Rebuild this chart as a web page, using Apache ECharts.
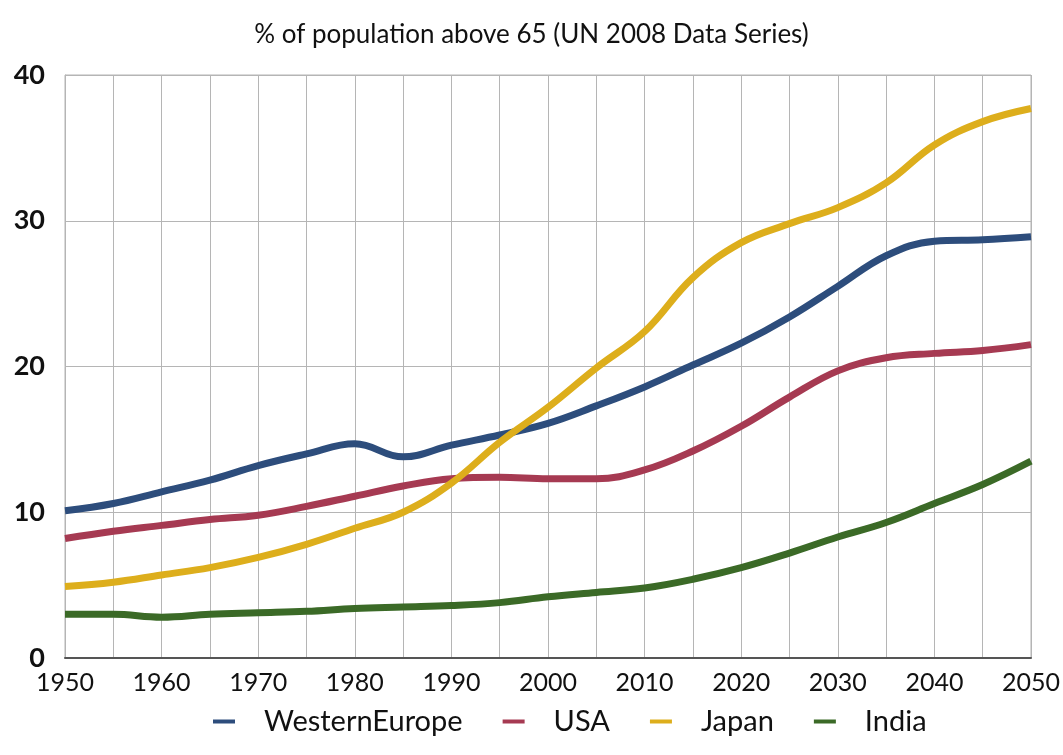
<!DOCTYPE html>
<html>
<head>
<meta charset="utf-8">
<script src="https://cdn.jsdelivr.net/npm/echarts@6/dist/echarts.min.js"></script>
<style>
html,body{margin:0;padding:0;background:#fff;}
#c{width:1063px;height:755px;}
</style>
</head>
<body>
<div id="c"></div>
<script>
const years = [1950,1955,1960,1965,1970,1975,1980,1985,1990,1995,2000,2005,2010,2015,2020,2025,2030,2035,2040,2045,2050];
const westernEurope = [10.1,10.6,11.4,12.2,13.2,14.0,14.7,13.8,14.6,15.3,16.1,17.3,18.6,20.1,21.6,23.4,25.5,27.6,28.6,28.7,28.9];
const usa = [8.2,8.7,9.1,9.5,9.8,10.4,11.1,11.8,12.3,12.4,12.3,12.3,12.9,14.2,15.9,17.9,19.7,20.6,20.9,21.1,21.5];
const japan = [4.9,5.2,5.7,6.2,6.9,7.8,8.9,10.0,12.0,14.8,17.2,19.9,22.4,26.1,28.5,29.8,30.9,32.6,35.2,36.8,37.7];
const india = [3.0,3.0,2.8,3.0,3.1,3.2,3.4,3.5,3.6,3.8,4.2,4.5,4.8,5.4,6.2,7.2,8.3,9.3,10.6,11.9,13.5];
const seriesNames = ['WesternEurope','USA','Japan','India'];
const colors = ['#2d4d7c','#a63a52','#ddae1c','#3b6a27'];
const yTicks = [0,10,20,30,40];

const FONT = 'Lato, "Noto Sans", sans-serif';
const all = [westernEurope, usa, japan, india];
const chart = echarts.init(document.getElementById('c'));
chart.setOption({
  animation:false,
  backgroundColor:'#fff',
  title:{text:'% of population above 65 (UN 2008 Data Series)',left:'center',top:17,
    textStyle:{fontFamily:FONT,fontSize:26,fontWeight:'normal',color:'#111'}},
  grid:{left:65,right:31,top:75,bottom:97,show:true,borderColor:'#b5b5b5',borderWidth:1},
  legend:{bottom:14,left:208,itemWidth:22,itemHeight:4,icon:'rect',itemGap:40,
    textStyle:{fontFamily:FONT,fontSize:29,color:'#111',padding:[0,0,0,24]},data:seriesNames},
  xAxis:{type:'value',min:1950,max:2050,interval:5,
    axisLine:{show:true,lineStyle:{color:'#555',width:2}},
    axisTick:{show:false},
    axisLabel:{fontFamily:FONT,fontSize:25,color:'#111',margin:12,
      formatter:v=> (v%10===0 ? String(v) : '')},
    splitLine:{show:true,lineStyle:{color:'#b5b5b5',width:1}}},
  yAxis:{type:'value',min:yTicks[0],max:yTicks[yTicks.length-1],interval:10,
    axisLine:{show:true,lineStyle:{color:'#b5b5b5',width:1}},
    axisTick:{show:false},
    axisLabel:{fontFamily:FONT,fontSize:27,color:'#111',fontWeight:'bold',margin:20},
    splitLine:{show:true,lineStyle:{color:'#b5b5b5',width:1}}},
  series: seriesNames.map((n,i)=>({
    name:n,type:'line',smooth:0.4,showSymbol:false,symbol:'none',
    data:years.map((y,j)=>[y,all[i][j]]),
    lineStyle:{color:colors[i],width:7},itemStyle:{color:colors[i]},
    z:[3,2,4,1][i]
  }))
});
</script>
</body>
</html>
